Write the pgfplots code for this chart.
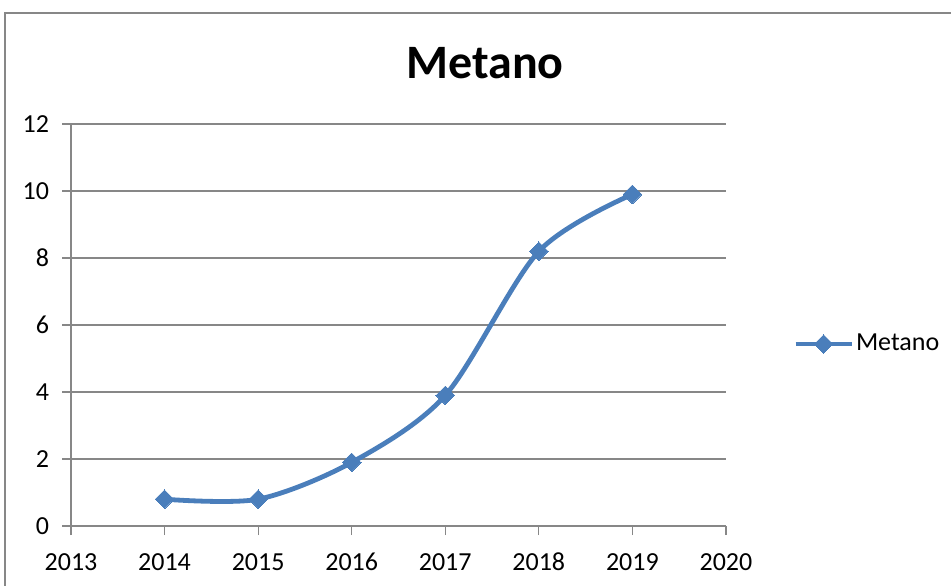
\documentclass[border=0pt]{standalone}
\usepackage{pgfplots}
\pgfplotsset{compat=1.18}
\usepackage{fontspec}
\setmainfont{Carlito}
\definecolor{serie}{HTML}{4A7EBB}
\definecolor{gridc}{HTML}{878787}
\begin{document}
\begin{tikzpicture}
\useasboundingbox (-35.5pt,-29.5pt) rectangle (440pt,263pt);
\draw[gridc, line width=0.6pt] (-33pt,-60pt) rectangle (500pt,256.5pt);
\begin{axis}[
  at={(0pt,0pt)}, anchor=south west,
  scale only axis, width=327.5pt, height=201pt,
  xmin=2013, xmax=2020, ymin=0, ymax=12,
  xtick={2013,...,2020}, ytick={0,2,...,12},
  axis x line*=bottom, axis y line*=left,
  axis line style={gridc, line width=0.6pt, -},
  ymajorgrids, grid style={gridc, line width=0.6pt},
  tick align=outside, major tick length=4.5pt,
  tick style={gridc, line width=0.6pt},
  x tick label style={/pgf/number format/1000 sep={}},
  /pgf/number format/assume math mode=true,
  tick label style={font=\fontsize{13}{15}\selectfont, black},
  yticklabel style={xshift=-3pt},
  xticklabel style={yshift=-5pt, text height=9pt, text depth=0pt},
  legend style={draw=none, fill=none, at={(1.102,0.4527)}, anchor=west,
    inner sep=0pt, font=\fontsize{13}{15}\selectfont,
    nodes={inner sep=1pt}},
  legend image code/.code={\draw[#1, mark repeat=2, mark phase=2] plot coordinates {(0pt,0pt) (14pt,0pt) (28pt,0pt)};},
  clip=false,
]
\addplot[serie, line width=2.4pt, smooth, mark=square*, mark size=3.3pt,
  mark options={rotate=45, fill=serie, draw=serie, line width=0pt}]
  coordinates {(2014,0.8) (2015,0.8) (2016,1.9) (2017,3.9) (2018,8.2) (2019,9.9)};
\addlegendentry{Metano}
\node[font=\fontsize{24}{26}\selectfont\bfseries] at (207pt,231.5pt) {Metano};
\end{axis}
\end{tikzpicture}
\end{document}
